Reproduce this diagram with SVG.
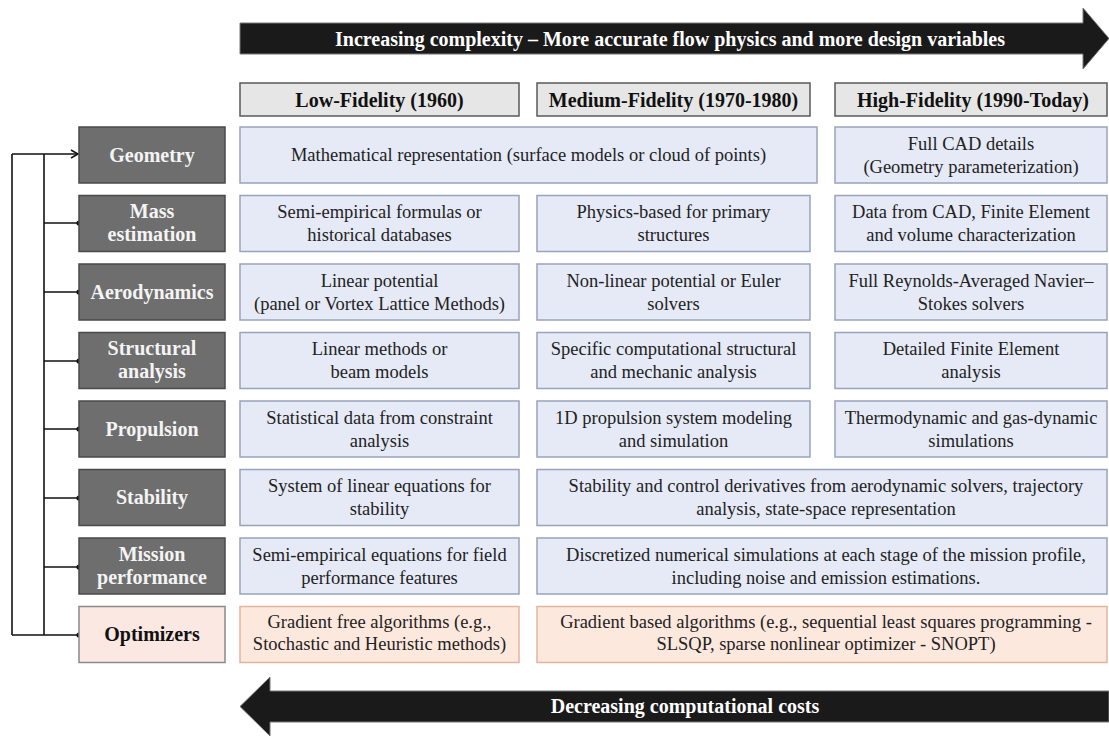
<svg xmlns="http://www.w3.org/2000/svg" width="1109" height="736" viewBox="0 0 1109 736">
<defs>
<style>
text{font-family:"Liberation Serif","Times New Roman",serif;}
.big{fill:#fff;font-weight:bold;font-size:20px;text-anchor:middle;}
.hdr rect{fill:#e6e6e6;stroke:#5a5a5a;stroke-width:1.5;}
.hdr text{font-weight:bold;font-size:20px;fill:#111;text-anchor:middle;}
.lbl rect{fill:#6e6e6e;stroke:#4a4a4a;stroke-width:1.5;}
.lbl text{font-weight:bold;font-size:20px;fill:#f4f4f4;text-anchor:middle;}
.opt rect{fill:#fbe8e2;stroke:#8a8a8a;stroke-width:1.5;}
.opt text{fill:#111;}
.cell rect{fill:#e5eaf6;stroke:#9aa3bd;stroke-width:1.5;}
.cell text{font-size:18.5px;fill:#222;text-anchor:middle;}
.ocell rect{fill:#fde8de;stroke:#e2b59c;stroke-width:1.5;}
.ocell text{font-size:18.5px;fill:#222;text-anchor:middle;}
.conn line{stroke:#111;stroke-width:1.6;fill:none;}
.conn circle{fill:#111;}
</style>
<marker id="ah" markerWidth="10" markerHeight="10" refX="8" refY="5" orient="auto" markerUnits="userSpaceOnUse">
<path d="M1,1 L8,5 L1,9" fill="none" stroke="#111" stroke-width="1.5"/>
</marker>
</defs>
<rect width="1109" height="736" fill="#fff"/>

<g id="arrow-top">
<polygon points="240,23 1083,23 1083,8 1109,38.5 1083,69 1083,54 240,54" fill="#1a1a1a" stroke="#777" stroke-width="1"/>
<text class="big" x="670" y="46">Increasing complexity – More accurate flow physics and more design variables</text>
</g>

<g id="arrow-bottom">
<polygon points="1109,691 270,691 270,677 240,706.5 270,736 270,722 1109,722" fill="#1a1a1a" stroke="#777" stroke-width="1"/>
<text class="big" x="685" y="713">Decreasing computational costs</text>
</g>

<g id="hdr-low" class="hdr"><rect x="240" y="83" width="279" height="33"/><text x="379.5" y="106.5">Low-Fidelity (1960)</text></g>
<g id="hdr-med" class="hdr"><rect x="537" y="83" width="273" height="33"/><text x="673.5" y="106.5">Medium-Fidelity (1970-1980)</text></g>
<g id="hdr-high" class="hdr"><rect x="835" y="83" width="272" height="33"/><text x="973" y="106.5">High-Fidelity (1990-Today)</text></g>

<g class="conn" id="connectors">
<line x1="12" y1="154" x2="12" y2="635"/>
<line x1="44" y1="154" x2="44" y2="635"/>
<line x1="12" y1="154" x2="78" y2="154" marker-end="url(#ah)"/>
<line x1="44" y1="223" x2="79" y2="223"/><circle cx="79" cy="223" r="2.6"/>
<line x1="44" y1="292" x2="79" y2="292"/><circle cx="79" cy="292" r="2.6"/>
<line x1="44" y1="361" x2="79" y2="361"/><circle cx="79" cy="361" r="2.6"/>
<line x1="44" y1="429" x2="79" y2="429"/><circle cx="79" cy="429" r="2.6"/>
<line x1="44" y1="498" x2="79" y2="498"/><circle cx="79" cy="498" r="2.6"/>
<line x1="44" y1="567" x2="79" y2="567"/><circle cx="79" cy="567" r="2.6"/>
<line x1="12" y1="635" x2="79" y2="635"/><circle cx="79" cy="635" r="2.6"/>
</g>

<g id="lbl-geometry" class="lbl"><rect x="79" y="127" width="146" height="56"/><text x="152" y="161.5">Geometry</text></g>
<g id="lbl-mass" class="lbl"><rect x="79" y="195.5" width="146" height="56"/><text x="152" y="218">Mass</text><text x="152" y="241">estimation</text></g>
<g id="lbl-aero" class="lbl"><rect x="79" y="264" width="146" height="56"/><text x="152" y="298.5">Aerodynamics</text></g>
<g id="lbl-struct" class="lbl"><rect x="79" y="332.5" width="146" height="56"/><text x="152" y="355">Structural</text><text x="152" y="378">analysis</text></g>
<g id="lbl-prop" class="lbl"><rect x="79" y="401" width="146" height="56"/><text x="152" y="435.5">Propulsion</text></g>
<g id="lbl-stab" class="lbl"><rect x="79" y="469.5" width="146" height="56"/><text x="152" y="504">Stability</text></g>
<g id="lbl-mission" class="lbl"><rect x="79" y="538" width="146" height="56"/><text x="152" y="560.5">Mission</text><text x="152" y="583.5">performance</text></g>
<g id="lbl-opt" class="lbl opt"><rect x="79" y="606.5" width="146" height="56"/><text x="152" y="641">Optimizers</text></g>

<g id="geo-lowmed" class="cell"><rect x="240" y="127" width="577" height="56"/><text x="528.5" y="161">Mathematical representation (surface models or cloud of points)</text></g>
<g id="geo-high" class="cell"><rect x="835" y="127" width="272" height="56"/><text x="971" y="150">Full CAD details</text><text x="971" y="173">(Geometry parameterization)</text></g>

<g id="mass-low" class="cell"><rect x="240" y="195.5" width="279" height="56"/><text x="379.5" y="218">Semi-empirical formulas or</text><text x="379.5" y="241">historical databases</text></g>
<g id="mass-med" class="cell"><rect x="537" y="195.5" width="273" height="56"/><text x="673.5" y="218">Physics-based for primary</text><text x="673.5" y="241">structures</text></g>
<g id="mass-high" class="cell"><rect x="835" y="195.5" width="272" height="56"/><text x="971" y="218">Data from CAD, Finite Element</text><text x="971" y="241">and volume characterization</text></g>

<g id="aero-low" class="cell"><rect x="240" y="264" width="279" height="56"/><text x="379.5" y="286.5">Linear potential</text><text x="379.5" y="309.5">(panel or Vortex Lattice Methods)</text></g>
<g id="aero-med" class="cell"><rect x="537" y="264" width="273" height="56"/><text x="673.5" y="286.5">Non-linear potential or Euler</text><text x="673.5" y="309.5">solvers</text></g>
<g id="aero-high" class="cell"><rect x="835" y="264" width="272" height="56"/><text x="971" y="286.5">Full Reynolds-Averaged Navier–</text><text x="971" y="309.5">Stokes solvers</text></g>

<g id="struct-low" class="cell"><rect x="240" y="332.5" width="279" height="56"/><text x="379.5" y="355">Linear methods or</text><text x="379.5" y="378">beam models</text></g>
<g id="struct-med" class="cell"><rect x="537" y="332.5" width="273" height="56"/><text x="673.5" y="355">Specific computational structural</text><text x="673.5" y="378">and mechanic analysis</text></g>
<g id="struct-high" class="cell"><rect x="835" y="332.5" width="272" height="56"/><text x="971" y="355">Detailed Finite Element</text><text x="971" y="378">analysis</text></g>

<g id="prop-low" class="cell"><rect x="240" y="401" width="279" height="56"/><text x="379.5" y="423.5">Statistical data from constraint</text><text x="379.5" y="446.5">analysis</text></g>
<g id="prop-med" class="cell"><rect x="537" y="401" width="273" height="56"/><text x="673.5" y="423.5">1D propulsion system modeling</text><text x="673.5" y="446.5">and simulation</text></g>
<g id="prop-high" class="cell"><rect x="835" y="401" width="272" height="56"/><text x="971" y="423.5">Thermodynamic and gas-dynamic</text><text x="971" y="446.5">simulations</text></g>

<g id="stab-low" class="cell"><rect x="240" y="469.5" width="279" height="56"/><text x="379.5" y="492">System of linear equations for</text><text x="379.5" y="515">stability</text></g>
<g id="stab-medhigh" class="cell"><rect x="537" y="469.5" width="570" height="56"/><text x="826" y="492">Stability and control derivatives from aerodynamic solvers, trajectory</text><text x="826" y="515">analysis, state-space representation</text></g>

<g id="mission-low" class="cell"><rect x="240" y="538" width="279" height="56"/><text x="379.5" y="560.5">Semi-empirical equations for field</text><text x="379.5" y="583.5">performance features</text></g>
<g id="mission-medhigh" class="cell"><rect x="537" y="538" width="570" height="56"/><text x="826" y="560.5">Discretized numerical simulations at each stage of the mission profile,</text><text x="826" y="583.5">including noise and emission estimations.</text></g>

<g id="opt-low" class="ocell"><rect x="240" y="606.5" width="279" height="56"/><text x="379.5" y="628">Gradient free algorithms (e.g.,</text><text x="379.5" y="650">Stochastic and Heuristic methods)</text></g>
<g id="opt-medhigh" class="ocell"><rect x="537" y="606.5" width="570" height="56"/><text x="826" y="628">Gradient based algorithms (e.g., sequential least squares programming -</text><text x="826" y="650">SLSQP, sparse nonlinear optimizer - SNOPT)</text></g>
</svg>
